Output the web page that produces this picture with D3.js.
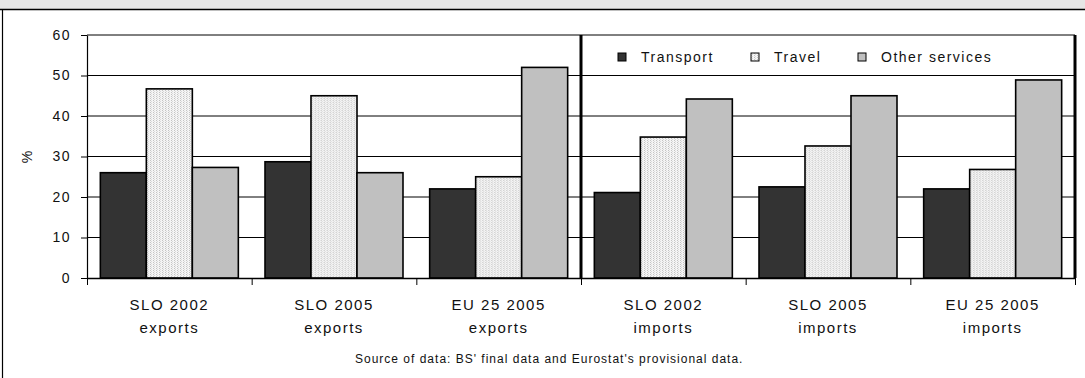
<!DOCTYPE html>
<html>
<head>
<meta charset="utf-8">
<script src="https://cdn.jsdelivr.net/npm/d3@7"></script>
<style>
  html, body { margin: 0; padding: 0; background: #fff; }
  svg { display: block; }
  text { font-family: "Liberation Sans", Arial, sans-serif; fill: #111; }
</style>
</head>
<body>
<svg id="chart" width="1085" height="378"></svg>
<script>
// Service shares (%) in exports and imports
const categories = ["SLO 2002 exports", "SLO 2005 exports", "EU 25 2005 exports",
                    "SLO 2002 imports", "SLO 2005 imports", "EU 25 2005 imports"];
const categoryLine1 = ["SLO 2002", "SLO 2005", "EU 25 2005", "SLO 2002", "SLO 2005", "EU 25 2005"];
const categoryLine2 = ["exports", "exports", "exports", "imports", "imports", "imports"];
const seriesNames = ["Transport", "Travel", "Other services"];
const transport = [26.0, 28.7, 22.0, 21.1, 22.5, 22.0];
const travel    = [46.7, 45.0, 25.0, 34.8, 32.6, 26.8];
const other     = [27.3, 26.0, 52.0, 44.2, 45.0, 48.9];
const yTicks = [0, 10, 20, 30, 40, 50, 60];
const sourceNote = "Source of data: BS' final data and Eurostat's provisional data.";

const svg = d3.select("#chart");
const W = 1085, H = 378;
const plot = { left: 87, right: 1075, top: 35, bottom: 278 };

// pattern for the Travel bars
const defs = svg.append("defs");
const pat = defs.append("pattern").attr("id", "dots")
  .attr("patternUnits", "userSpaceOnUse").attr("width", 3).attr("height", 2);
pat.append("rect").attr("width", 3).attr("height", 2).attr("fill", "#f4f4f4");
pat.append("rect").attr("x", 0).attr("y", 0).attr("width", 1).attr("height", 1).attr("fill", "#c4c4c4");
pat.append("rect").attr("x", 1).attr("y", 1).attr("width", 1).attr("height", 1).attr("fill", "#dadada");

const fills = { "Transport": "#333333", "Travel": "url(#dots)", "Other services": "#c0c0c0" };
const valuesBySeries = { "Transport": transport, "Travel": travel, "Other services": other };

// title band and frame
svg.append("rect").attr("x", 0).attr("y", 0).attr("width", W).attr("height", 9.5).attr("fill", "#e6e6e6");
svg.append("line").attr("x1", 0).attr("x2", W).attr("y1", 9.5).attr("y2", 9.5)
  .attr("stroke", "#000").attr("stroke-width", 1.5);
svg.append("line").attr("x1", 2.5).attr("x2", 2.5).attr("y1", 9.5).attr("y2", H)
  .attr("stroke", "#000").attr("stroke-width", 1.2);

const y = d3.scaleLinear().domain([0, 60]).range([plot.bottom, plot.top]);
const x0 = d3.scaleBand().domain(categories).range([plot.left, plot.right]).padding(0);
const bw = x0.bandwidth();
const gap = bw * 0.081;
const x1 = d3.scaleBand().domain(seriesNames).range([gap, bw - gap]).padding(0);

// gridlines
svg.append("g").selectAll("line").data(yTicks.filter(d => d > 0)).join("line")
  .attr("x1", plot.left).attr("x2", plot.right)
  .attr("y1", d => y(d)).attr("y2", d => y(d))
  .attr("stroke", "#000").attr("stroke-width", 1);

// bars
const groups = svg.append("g").selectAll("g").data(categories).join("g")
  .attr("transform", d => `translate(${x0(d)},0)`);
groups.selectAll("rect")
  .data((c, i) => seriesNames.map(s => ({ s, v: valuesBySeries[s][i] })))
  .join("rect")
  .attr("x", d => x1(d.s))
  .attr("y", d => y(d.v))
  .attr("width", x1.bandwidth())
  .attr("height", d => y(0) - y(d.v))
  .attr("fill", d => fills[d.s])
  .attr("stroke", "#000").attr("stroke-width", 1.6);

// y axis
const yAxis = svg.append("g").attr("transform", `translate(${plot.left},0)`)
  .call(d3.axisLeft(y).tickValues(yTicks).tickSize(6).tickSizeOuter(0).tickPadding(10));
yAxis.select(".domain").attr("stroke", "#000").attr("stroke-width", 1.2);
yAxis.selectAll(".tick line").attr("stroke", "#000");
yAxis.selectAll(".tick text").attr("font-size", 14).attr("letter-spacing", 1.5)
  .attr("fill", "#111").style("font-family", "'Liberation Sans', Arial, sans-serif");

// x axis with boundary ticks
const boundaries = categories.map(c => x0(c)).concat([plot.right]);
const xb = d3.scaleLinear().domain([plot.left, plot.right]).range([plot.left, plot.right]);
const xAxis = svg.append("g").attr("transform", `translate(0,${plot.bottom})`)
  .call(d3.axisBottom(xb).tickValues(boundaries).tickFormat("").tickSize(7).tickSizeOuter(0));
xAxis.select(".domain").attr("stroke", "#000").attr("stroke-width", 1.5);
xAxis.selectAll(".tick line").attr("stroke", "#000");

// divider between exports and imports, right edge
[x0(categories[3]), plot.right].forEach(xv => {
  svg.append("line").attr("x1", xv).attr("x2", xv).attr("y1", plot.top).attr("y2", plot.bottom)
    .attr("stroke", "#000").attr("stroke-width", 3);
});

// category labels
const lab = svg.append("g").selectAll("text").data(categories).join("text")
  .attr("x", d => x0(d) + bw / 2)
  .attr("text-anchor", "middle").attr("font-size", 15).attr("letter-spacing", 1.5);
lab.append("tspan").attr("x", d => x0(d) + bw / 2).attr("y", 310).text((d, i) => categoryLine1[i]);
lab.append("tspan").attr("x", d => x0(d) + bw / 2).attr("y", 333).text((d, i) => categoryLine2[i]);

// y label
svg.append("text").attr("transform", "translate(32,157) rotate(-90)")
  .attr("text-anchor", "middle").attr("font-size", 14).text("%");

// legend
const legendX = [618, 751, 858];
const leg = svg.append("g").selectAll("g").data(seriesNames).join("g")
  .attr("transform", (d, i) => `translate(${legendX[i]},53)`);
leg.append("rect").attr("width", 8).attr("height", 8)
  .attr("fill", d => fills[d]).attr("stroke", "#000").attr("stroke-width", 1);
leg.append("text").attr("x", 23).attr("y", 9).attr("font-size", 14).attr("letter-spacing", 1.5)
  .text(d => d);

// source note
svg.append("text").attr("x", 355).attr("y", 363).attr("font-size", 12).attr("letter-spacing", 1)
  .text(sourceNote);
</script>
</body>
</html>
